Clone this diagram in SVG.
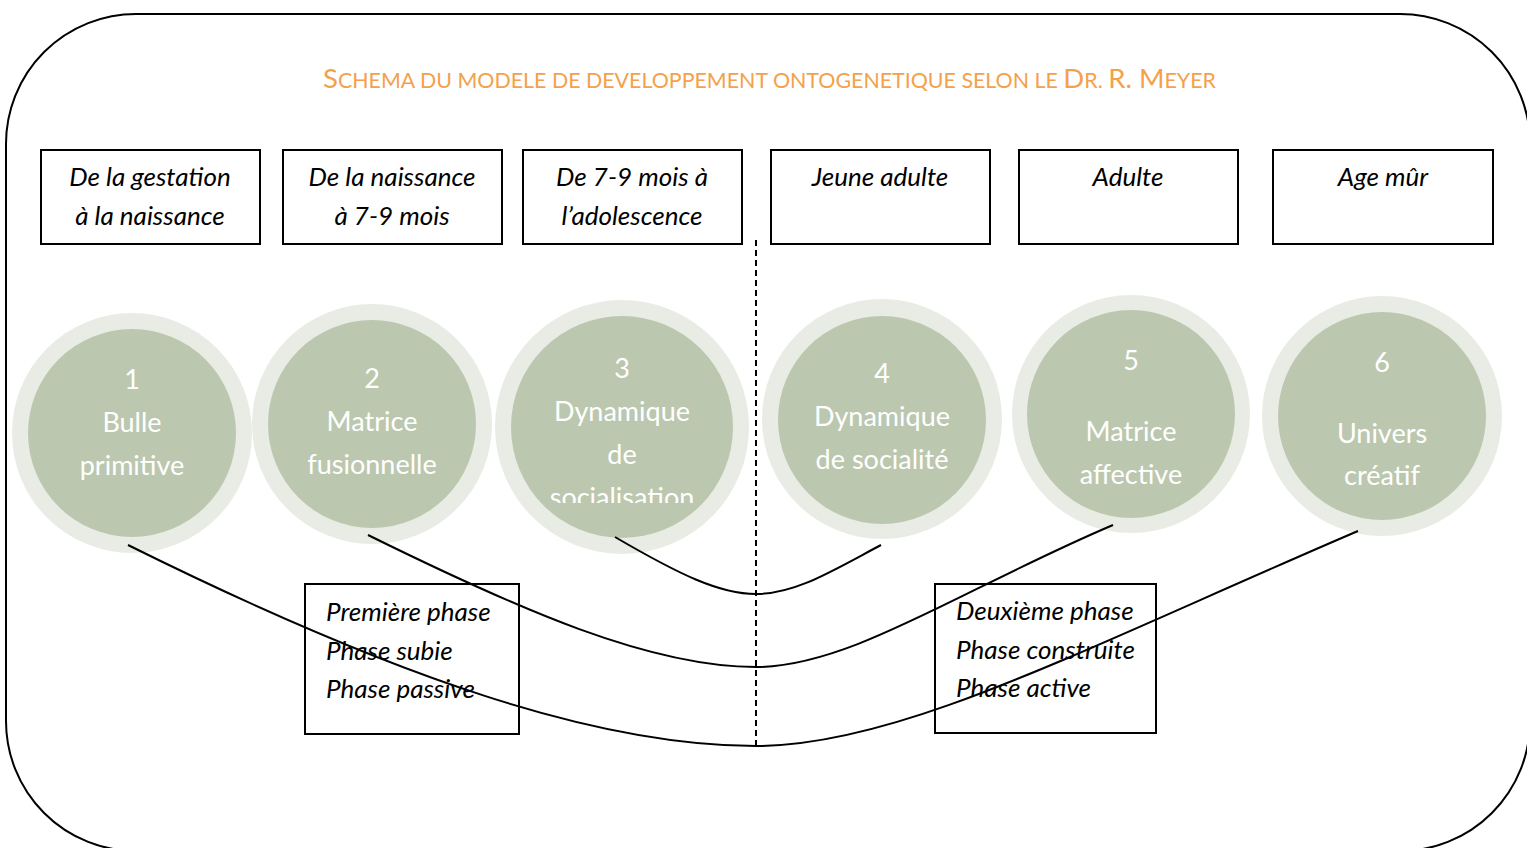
<svg xmlns="http://www.w3.org/2000/svg" width="1527" height="848" viewBox="0 0 1527 848">
<defs>
<style>
.frame{fill:#FFFFFF;stroke:#000000;stroke-width:2}
.box{fill:none;stroke:#000000;stroke-width:2}
.ring{fill:#E9ECE4}
.core{fill:#BBC8AF}
.ct{font-family:Lato,"Open Sans","Liberation Sans",sans-serif;font-size:27px;fill:#FFFFFF;text-anchor:middle}
.bt{font-family:Lato,"Open Sans","Liberation Sans",sans-serif;font-size:26px;font-style:italic;fill:#000000;text-anchor:middle}
.pt{font-family:Lato,"Open Sans","Liberation Sans",sans-serif;font-size:26px;font-style:italic;fill:#000000}
.title{font-family:Lato,"Open Sans","Liberation Sans",sans-serif;fill:#F4A14B;text-anchor:middle}
.big{font-size:27.5px}
.small{font-size:21.4px}
.conn{fill:none;stroke:#000000;stroke-width:2}
.dash{fill:none;stroke:#000000;stroke-width:2;stroke-dasharray:6 4}
</style>
<clipPath id="clip3"><rect x="500" y="300" width="250" height="203"/></clipPath>
</defs>
<rect class="frame" x="6" y="14" width="1524" height="837" rx="130" ry="130"/>
<text class="title" x="769.5" y="88"><tspan class="big">S</tspan><tspan class="small">CHEMA DU MODELE DE DEVELOPPEMENT ONTOGENETIQUE SELON LE </tspan><tspan class="big">D</tspan><tspan class="small">R. </tspan><tspan class="big">R. M</tspan><tspan class="small">EYER</tspan></text>

<g id="age1"><rect class="box" x="41" y="150" width="219" height="94"/><text class="bt" x="150" y="186">De la gestation</text><text class="bt" x="150" y="225">à la naissance</text></g>
<g id="age2"><rect class="box" x="283" y="150" width="219" height="94"/><text class="bt" x="392" y="186">De la naissance</text><text class="bt" x="392" y="225">à 7-9 mois</text></g>
<g id="age3"><rect class="box" x="523" y="150" width="219" height="94"/><text class="bt" x="632" y="186">De 7-9 mois à</text><text class="bt" x="632" y="225">l’adolescence</text></g>
<g id="age4"><rect class="box" x="771" y="150" width="219" height="94"/><text class="bt" x="880" y="186">Jeune adulte</text></g>
<g id="age5"><rect class="box" x="1019" y="150" width="219" height="94"/><text class="bt" x="1128" y="186">Adulte</text></g>
<g id="age6"><rect class="box" x="1273" y="150" width="220" height="94"/><text class="bt" x="1383" y="186">Age mûr</text></g>

<g id="stage1"><circle class="ring" cx="132" cy="433" r="120"/><circle class="core" cx="132" cy="433" r="104"/><text class="ct" x="132" y="389">1</text><text class="ct" x="132" y="432">Bulle</text><text class="ct" x="132" y="475">primitive</text></g>
<g id="stage2"><circle class="ring" cx="372" cy="424" r="120"/><circle class="core" cx="372" cy="424" r="104"/><text class="ct" x="372" y="388">2</text><text class="ct" x="372" y="431">Matrice</text><text class="ct" x="372" y="474">fusionnelle</text></g>
<g id="stage3"><circle class="ring" cx="622" cy="427" r="127"/><circle class="core" cx="622" cy="427" r="111"/><g clip-path="url(#clip3)"><text class="ct" x="622" y="378">3</text><text class="ct" x="622" y="421">Dynamique</text><text class="ct" x="622" y="464">de</text><text class="ct" x="622" y="507">socialisation</text></g></g>
<g id="stage4"><circle class="ring" cx="882" cy="419" r="120"/><circle class="core" cx="882" cy="420" r="104"/><text class="ct" x="882" y="383">4</text><text class="ct" x="882" y="426">Dynamique</text><text class="ct" x="882" y="469">de socialité</text></g>
<g id="stage5"><circle class="ring" cx="1131" cy="414" r="119"/><circle class="core" cx="1131" cy="414" r="104"/><text class="ct" x="1131" y="370">5</text><text class="ct" x="1131" y="441">Matrice</text><text class="ct" x="1131" y="484">affective</text></g>
<g id="stage6"><circle class="ring" cx="1382" cy="416" r="120"/><circle class="core" cx="1382" cy="416" r="104"/><text class="ct" x="1382" y="372">6</text><text class="ct" x="1382" y="443">Univers</text><text class="ct" x="1382" y="485">créatif</text></g>

<g id="phase1"><rect class="box" x="305" y="584" width="214" height="150"/><text class="pt" x="326" y="621">Première phase</text><text class="pt" x="326" y="660">Phase subie</text><text class="pt" x="326" y="698">Phase passive</text></g>
<g id="phase2"><rect class="box" x="935" y="584" width="221" height="149"/><text class="pt" x="956" y="620">Deuxième phase</text><text class="pt" x="956" y="659">Phase construite</text><text class="pt" x="956" y="697">Phase active</text></g>

<g id="connectors">
<line class="dash" x1="756" y1="240" x2="756" y2="746"/>
<path class="conn" d="M615,537 C680,575 720,594 756,594 C795,594 830,572 881,545"/>
<path class="conn" d="M368,535 C520,610 650,667 756,667 C850,667 960,590 1113,525"/>
<path class="conn" d="M128,545 C400,680 600,746 756,746 C900,746 1080,650 1358,531"/>
</g>
</svg>
